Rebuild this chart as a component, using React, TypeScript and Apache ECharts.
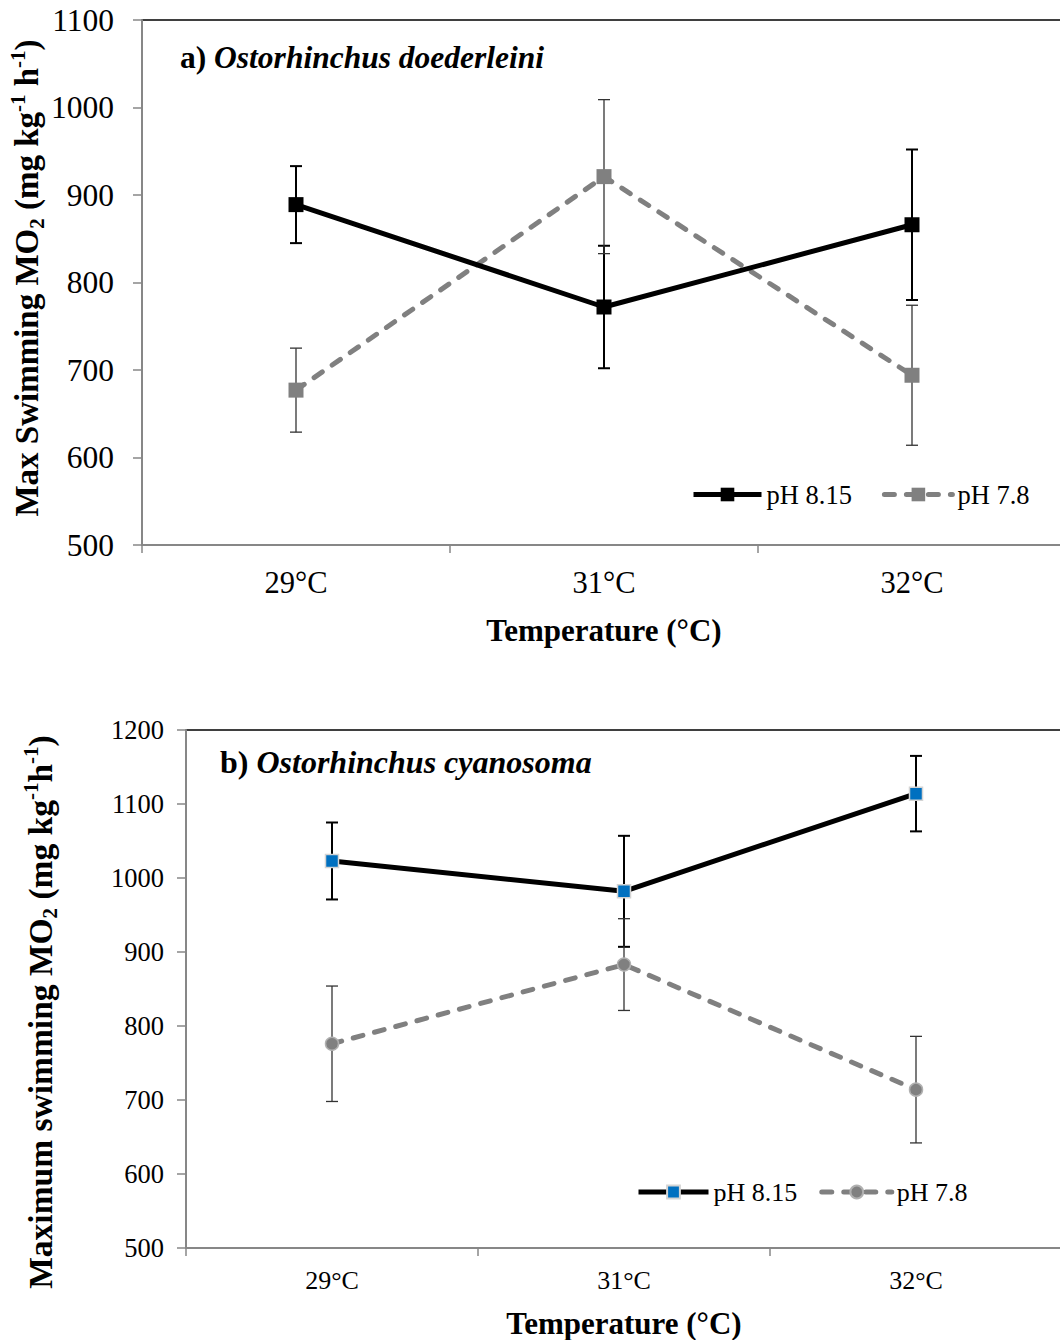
import React, { useEffect, useRef } from 'react';
import * as echarts from 'echarts';

const categories = ['29°C', '31°C', '32°C'];
// Panel a) Ostorhinchus doederleini
const aMeanHigh = [889, 772, 866]; // pH 8.15
const aErrHigh = [44, 70, 86];
const aMeanLow = [677, 921, 694]; // pH 7.8
const aErrLow = [48, 88, 80];
// Panel b) Ostorhinchus cyanosoma
const bMeanHigh = [1023, 982, 1114]; // pH 8.15
const bErrHigh = [52, 75, 51];
const bMeanLow = [776, 883, 714]; // pH 7.8
const bErrLow = [78, 62, 72];

const aYMin = 500, aYMax = 1100;
const bYMin = 500, bYMax = 1200;
const yStep = 100;

const FONT = '"Liberation Serif", "Times New Roman", serif';
const AXIS_GREY = '#878787';

const errData = (m: number[], e: number[]) => m.map((v, i) => [i, v - e[i], v + e[i]]);

const errRender = (color: string, width: number) => (params: any, api: any) => {
  const x = api.value(0);
  const lo = api.coord([x, api.value(1)]);
  const hi = api.coord([x, api.value(2)]);
  const hw = 6;
  const style = { stroke: color, lineWidth: width };
  return {
    type: 'group',
    children: [
      { type: 'line', shape: { x1: lo[0], y1: lo[1], x2: hi[0], y2: hi[1] }, style },
      { type: 'line', shape: { x1: lo[0] - hw, y1: lo[1], x2: lo[0] + hw, y2: lo[1] }, style },
      { type: 'line', shape: { x1: hi[0] - hw, y1: hi[1], x2: hi[0] + hw, y2: hi[1] }, style },
    ],
  };
};

export default function App() {
  const ref = useRef<HTMLDivElement>(null);
  useEffect(() => {
    if (!ref.current) return;
    const chart = echarts.init(ref.current, undefined, { renderer: 'svg' });

    const xAxisBase = (gridIndex: number, fontSize: number, margin: number) => ({
      type: 'category',
      gridIndex,
      data: categories,
      boundaryGap: true,
      axisLine: { lineStyle: { color: AXIS_GREY, width: 2 } },
      axisTick: { show: true, length: 8, lineStyle: { color: AXIS_GREY, width: 1.5 } },
      axisLabel: { color: '#000', fontFamily: FONT, fontSize, margin },
      splitLine: { show: false },
    });
    const yAxisBase = (gridIndex: number, min: number, max: number, fontSize: number, margin: number) => ({
      type: 'value',
      gridIndex,
      min,
      max,
      interval: yStep,
      axisLine: { show: true, lineStyle: { color: AXIS_GREY, width: 2 } },
      axisTick: { show: true, length: 9, lineStyle: { color: AXIS_GREY, width: 1.5 } },
      axisLabel: { color: '#000', fontFamily: FONT, fontSize, margin, formatter: (v: number) => String(v) },
      splitLine: { show: false },
    });

    const dashed = { type: [10, 12], cap: 'round' };

    const option: any = {
      animation: false,
      backgroundColor: '#fff',
      grid: [
        { left: 142, top: 20, width: 924, height: 525, show: true, borderColor: '#000', borderWidth: 1.5, containLabel: false },
        { left: 186, top: 730, width: 876, height: 518, show: true, borderColor: '#000', borderWidth: 1.5, containLabel: false },
      ],
      xAxis: [xAxisBase(0, 30.5, 22), xAxisBase(1, 26, 19)],
      yAxis: [yAxisBase(0, aYMin, aYMax, 31.5, 28), yAxisBase(1, bYMin, bYMax, 26.5, 22)],
      legend: [
        {
          data: ['pH 8.15', 'pH 7.8'],
          left: 691,
          top: 481,
          padding: 0,
          itemWidth: 68,
          itemHeight: 17,
          itemGap: 30,
          selectedMode: false,
          lineStyle: { width: 5 },
          textStyle: { fontFamily: FONT, fontSize: 26.5, color: '#000' },
        },
        {
          data: ['pH 8.15(b)', 'pH 7.8(b)'],
          left: 636,
          top: 1179,
          padding: 0,
          itemWidth: 70,
          itemHeight: 16,
          itemGap: 22,
          selectedMode: false,
          lineStyle: { width: 5 },
          formatter: (n: string) => n.replace('(b)', ''),
          textStyle: { fontFamily: FONT, fontSize: 26, color: '#000' },
        },
      ],
      series: [
        {
          name: 'errA1', type: 'custom', xAxisIndex: 0, yAxisIndex: 0, z: 1,
          renderItem: errRender('#000', 2), data: errData(aMeanHigh, aErrHigh), encode: { x: 0, y: [1, 2] },
        },
        {
          name: 'errA2', type: 'custom', xAxisIndex: 0, yAxisIndex: 0, z: 1,
          renderItem: errRender('#333', 1.3), data: errData(aMeanLow, aErrLow), encode: { x: 0, y: [1, 2] },
        },
        {
          name: 'errB1', type: 'custom', xAxisIndex: 1, yAxisIndex: 1, z: 1,
          renderItem: errRender('#000', 2), data: errData(bMeanHigh, bErrHigh), encode: { x: 0, y: [1, 2] },
        },
        {
          name: 'errB2', type: 'custom', xAxisIndex: 1, yAxisIndex: 1, z: 1,
          renderItem: errRender('#333', 1.3), data: errData(bMeanLow, bErrLow), encode: { x: 0, y: [1, 2] },
        },
        {
          name: 'pH 8.15', type: 'line', xAxisIndex: 0, yAxisIndex: 0, z: 4,
          data: aMeanHigh, symbol: 'rect', symbolSize: 15,
          itemStyle: { color: '#000' }, lineStyle: { color: '#000', width: 5 },
        },
        {
          name: 'pH 7.8', type: 'line', xAxisIndex: 0, yAxisIndex: 0, z: 3,
          data: aMeanLow, symbol: 'rect', symbolSize: 15,
          itemStyle: { color: '#808080' }, lineStyle: { color: '#808080', width: 5, ...dashed },
        },
        {
          name: 'pH 8.15(b)', type: 'line', xAxisIndex: 1, yAxisIndex: 1, z: 4,
          data: bMeanHigh, symbol: 'rect', symbolSize: 13,
          itemStyle: { color: '#0070C0', borderColor: '#d4d4d4', borderWidth: 1.5 },
          lineStyle: { color: '#000', width: 5 },
        },
        {
          name: 'pH 7.8(b)', type: 'line', xAxisIndex: 1, yAxisIndex: 1, z: 3,
          data: bMeanLow, symbol: 'circle', symbolSize: 13,
          itemStyle: { color: '#808080', borderColor: '#b0b0b0', borderWidth: 1.5 },
          lineStyle: { color: '#808080', width: 5, ...dashed },
        },
      ],
      graphic: [
        {
          type: 'text', x: 180, y: 57, z: 10,
          style: {
            text: '{a|a) }{b|Ostorhinchus doederleini}',
            align: 'left', verticalAlign: 'middle',
            rich: {
              a: { fontFamily: FONT, fontSize: 31.5, fontWeight: 'bold', fill: '#000' },
              b: { fontFamily: FONT, fontSize: 31.5, fontWeight: 'bold', fontStyle: 'italic', fill: '#000' },
            },
          },
        },
        {
          type: 'text', x: 220, y: 762, z: 10,
          style: {
            text: '{a|b) }{b|Ostorhinchus cyanosoma}',
            align: 'left', verticalAlign: 'middle',
            rich: {
              a: { fontFamily: FONT, fontSize: 32, fontWeight: 'bold', fill: '#000' },
              b: { fontFamily: FONT, fontSize: 32, fontWeight: 'bold', fontStyle: 'italic', fill: '#000' },
            },
          },
        },
        {
          type: 'text', x: 27, y: 278, rotation: Math.PI / 2, z: 10,
          style: {
            text: '{n|Max Swimming MO}{sub|2}{n| (mg kg}{sup|-1}{n| h}{sup|-1}{n|)}',
            align: 'center', verticalAlign: 'middle',
            rich: {
              n: { fontFamily: FONT, fontSize: 33, fontWeight: 'bold', fill: '#000', lineHeight: 40 },
              sub: { fontFamily: FONT, fontSize: 21, fontWeight: 'bold', fill: '#000', verticalAlign: 'bottom', lineHeight: 21 },
              sup: { fontFamily: FONT, fontSize: 21, fontWeight: 'bold', fill: '#000', verticalAlign: 'top', lineHeight: 21 },
            },
          },
        },
        {
          type: 'text', x: 40, y: 1012, rotation: Math.PI / 2, z: 10,
          style: {
            text: '{n|Maximum swimming MO}{sub|2}{n| (mg kg}{sup|-1}{n|h}{sup|-1}{n|)}',
            align: 'center', verticalAlign: 'middle',
            rich: {
              n: { fontFamily: FONT, fontSize: 33.5, fontWeight: 'bold', fill: '#000', lineHeight: 40 },
              sub: { fontFamily: FONT, fontSize: 21, fontWeight: 'bold', fill: '#000', verticalAlign: 'bottom', lineHeight: 21 },
              sup: { fontFamily: FONT, fontSize: 21, fontWeight: 'bold', fill: '#000', verticalAlign: 'top', lineHeight: 21 },
            },
          },
        },
        {
          type: 'text', x: 604, y: 630, z: 10,
          style: {
            text: 'Temperature (°C)', align: 'center', verticalAlign: 'middle',
            fontFamily: FONT, fontSize: 31, fontWeight: 'bold', fill: '#000',
          },
        },
        {
          type: 'text', x: 624, y: 1323, z: 10,
          style: {
            text: 'Temperature (°C)', align: 'center', verticalAlign: 'middle',
            fontFamily: FONT, fontSize: 31, fontWeight: 'bold', fill: '#000',
          },
        },
      ],
    };
    chart.setOption(option);
    return () => chart.dispose();
  }, []);

  return (
    <div style={{ position: 'absolute', left: 0, top: 0, width: 1060, height: 1340, overflow: 'hidden', background: '#fff' }}>
      <div ref={ref} style={{ width: 1080, height: 1340 }} />
    </div>
  );
}
